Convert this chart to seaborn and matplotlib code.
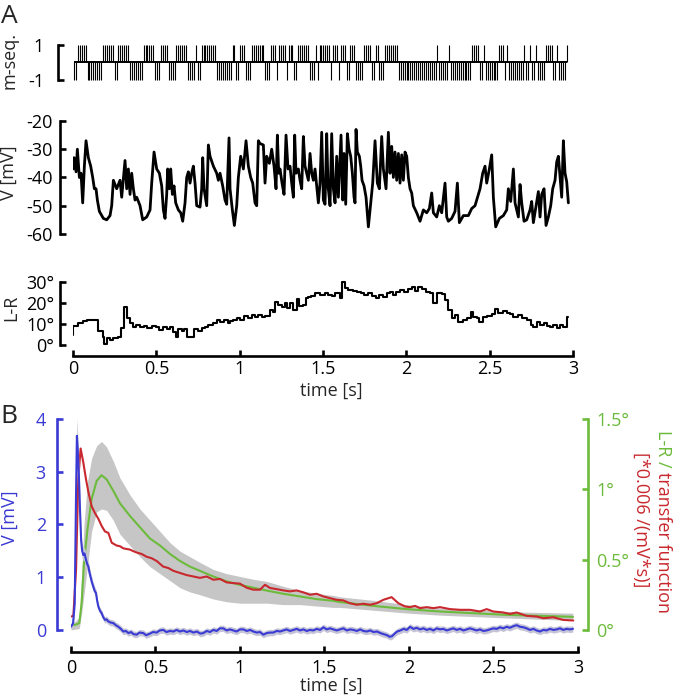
import numpy as np
import matplotlib
matplotlib.use('Agg')
import matplotlib.pyplot as plt
import seaborn as sns

sns.set_theme(style='ticks')
plt.rcParams['font.family'] = ['Open Sans', 'DejaVu Sans']
plt.rcParams['axes.unicode_minus'] = False

# ---------------- panel A: m-sequence (run lengths, starting with -1, alternating) ----------------
mseq_bit = 0.0116  # s per bit
mseq_runs = [2, 5, 8, 6, 2, 6, 7, 6, 3, 4, 4, 6, 4, 1, 2, 8, 8, 2, 2,
             3, 3, 7, 3, 3, 1, 4, 1, 3, 2, 6, 3, 1, 1, 6, 1, 3, 1, 3, 2, 3, 4, 4, 2, 2, 3, 7, 20,
             1, 5, 1, 11, 4, 2, 1, 7, 3, 1, 1, 8, 1, 2, 1, 2, 1, 4, 4, 2, 1, 4, 1]

# ---------------- panel A: membrane potential (vertices) ----------------
v_t = [0.000, 0.006, 0.018, 0.026, 0.038, 0.048, 0.058, 0.068, 0.078, 0.092,
       0.106, 0.118, 0.128, 0.138, 0.146, 0.158, 0.182, 0.202, 0.222, 0.232,
       0.242, 0.262, 0.282, 0.292, 0.312, 0.322, 0.332, 0.342, 0.352, 0.362,
       0.372, 0.382, 0.402, 0.418, 0.442, 0.462, 0.472, 0.486, 0.502, 0.518,
       0.532, 0.542, 0.552, 0.562, 0.568, 0.578, 0.586, 0.596, 0.606, 0.616,
       0.632, 0.646, 0.658, 0.672, 0.682, 0.692, 0.702, 0.712, 0.722, 0.732,
       0.742, 0.762, 0.772, 0.778, 0.786, 0.802, 0.812, 0.822, 0.842, 0.862,
       0.872, 0.882, 0.898, 0.912, 0.922, 0.936, 0.942, 0.956, 0.968, 0.982,
       0.992, 1.006, 1.022, 1.038, 1.052, 1.066, 1.078, 1.092, 1.102, 1.112,
       1.122, 1.142, 1.152, 1.162, 1.178, 1.192, 1.206, 1.218, 1.226, 1.234,
       1.242, 1.254, 1.266, 1.278, 1.290, 1.302, 1.312, 1.322, 1.330, 1.338,
       1.352, 1.362, 1.372, 1.382, 1.392, 1.402, 1.412, 1.422, 1.432, 1.442,
       1.452, 1.462, 1.472, 1.482, 1.492, 1.502, 1.512, 1.522, 1.530, 1.542,
       1.552, 1.562, 1.572, 1.582, 1.592,
       1.608, 1.618, 1.626, 1.636, 1.646, 1.656, 1.666, 1.676, 1.686, 1.692,
       1.698, 1.706, 1.718, 1.726, 1.734, 1.746, 1.758, 1.772, 1.786, 1.798,
       1.812, 1.826, 1.838, 1.852, 1.862, 1.878, 1.892, 1.902, 1.912, 1.922,
       1.932, 1.942, 1.952, 1.962, 1.972, 1.982, 1.992, 2.002, 2.012, 2.022,
       2.032, 2.042, 2.062, 2.082, 2.102, 2.122, 2.138, 2.152, 2.162, 2.182,
       2.198, 2.212, 2.232, 2.242, 2.252, 2.272, 2.292, 2.306, 2.318, 2.342,
       2.372, 2.392, 2.412, 2.422, 2.442, 2.458, 2.472, 2.482, 2.498, 2.512,
       2.522, 2.536, 2.558, 2.582, 2.602, 2.612, 2.626, 2.642, 2.652, 2.672,
       2.682, 2.692, 2.706, 2.722, 2.742, 2.752, 2.762, 2.778, 2.792, 2.802,
       2.812, 2.826, 2.838, 2.852, 2.866, 2.878, 2.892, 2.902, 2.912, 2.922,
       2.932, 2.942, 2.952, 2.962, 2.972]
v_mv = [-37, -33, -38, -30, -40, -38.5, -49, -36, -27, -33,
        -36, -40, -44, -44, -48, -52, -54.5, -55, -53.5, -50,
        -41, -44, -41, -47, -34, -44, -37, -46, -38.5, -44,
        -48, -47, -50, -55, -54, -51.5, -42, -31, -37, -38.5,
        -43, -51.5, -54.5, -46, -37, -44, -37, -46, -43, -49,
        -51.5, -52.5, -55.5, -49, -40, -38, -42, -38.5, -36, -42,
        -50, -50.5, -44, -33, -44, -50, -28.5, -32.5, -36, -38.5,
        -41, -38.5, -43, -48, -49.5, -26, -44, -51.5, -57, -50,
        -40, -32.5, -37, -27, -36, -40, -42, -49, -50, -27,
        -28, -28.5, -42, -32.5, -35, -30, -36, -44, -25, -38.5,
        -37, -42, -46, -25, -37, -36, -42, -47, -25, -38.5,
        -37, -41, -44, -25.5, -36, -38.5, -41, -31.5, -38.5, -41,
        -37, -43, -49, -42, -24, -48, -49.5, -24.5, -43, -50,
        -24.5, -44, -49, -32.5, -47,
        -25, -48, -31.5, -49.5, -24.5, -30, -32.5, -38.5, -47, -49,
        -23, -31, -32.5, -36, -41, -43, -47, -57.5, -49, -42,
        -27, -42, -44, -25.5, -37, -44, -24, -38.5, -29, -40,
        -31, -41, -31.5, -42, -32, -41, -31, -32.5, -40, -44,
        -45.5, -50, -52.5, -55.5, -51.5, -52.5, -51, -45.5, -52.5, -54,
        -50, -52.5, -42, -54, -55.5, -54.5, -52, -42, -56, -53.5,
        -53.5, -51, -50, -48, -44, -38.5, -36, -42, -37, -32,
        -47, -57.5, -54.5, -53.5, -51.5, -44, -48.5, -37, -49, -54,
        -42.5, -49, -55.5, -55, -51.5, -48.5, -56, -50, -45, -54,
        -46, -44, -57, -54, -50, -44, -41, -34.5, -32.5, -40,
        -47, -27, -38.5, -41.5, -49]

# ---------------- panel A: L-R stimulus (step changes) ----------------
lr_t = [0.000, 0.002, 0.032, 0.062, 0.086, 0.152, 0.178, 0.186, 0.202, 0.222,
        0.242, 0.272, 0.286, 0.306, 0.326, 0.342, 0.358, 0.378, 0.402, 0.426,
        0.442, 0.472, 0.498, 0.518, 0.542, 0.566, 0.582, 0.598, 0.618, 0.632,
        0.652, 0.666, 0.686, 0.726, 0.752, 0.772, 0.792, 0.812, 0.842, 0.862,
        0.882, 0.906, 0.928, 0.942, 0.962, 0.986, 1.002, 1.026, 1.052, 1.072,
        1.092, 1.112, 1.132, 1.152, 1.182, 1.198, 1.212, 1.232, 1.252, 1.272,
        1.286, 1.302, 1.318, 1.346, 1.358, 1.382, 1.398, 1.412, 1.426, 1.452,
        1.482, 1.512, 1.532, 1.552, 1.572,
        1.602, 1.612, 1.632, 1.652, 1.682, 1.702, 1.726, 1.746, 1.772, 1.792,
        1.818, 1.838, 1.858, 1.882, 1.902, 1.918, 1.938, 1.962, 1.986, 2.012,
        2.032, 2.052, 2.072, 2.092, 2.118, 2.142, 2.162, 2.182, 2.212, 2.232,
        2.252, 2.272, 2.292, 2.312, 2.338, 2.362, 2.386, 2.402, 2.422, 2.438,
        2.458, 2.482, 2.512, 2.532, 2.552, 2.578, 2.602, 2.622, 2.642, 2.672,
        2.692, 2.722, 2.746, 2.762, 2.782, 2.802, 2.826, 2.842, 2.862, 2.882,
        2.902, 2.922, 2.942, 2.962, 2.968]
lr_deg = [4.8, 9.2, 10.3, 11.4, 11.9, 6.8, 4.0, 0.5, 3.2, 2.4,
          3.2, 4.0, 7.9, 18.3, 12.7, 10.3, 8.4, 9.5, 8.4, 9.0,
          7.9, 9.0, 8.4, 7.1, 8.4, 7.5, 8.4, 6.3, 4.0, 7.5,
          6.8, 7.5, 4.0, 7.5, 6.8, 8.3, 8.7, 9.5, 10.6, 11.9,
          11.1, 11.9, 10.6, 11.6, 11.9, 12.7, 11.9, 13.8, 12.7, 14.3,
          13.2, 14.3, 13.2, 13.8, 16.7, 15.9, 20.6, 19.0, 18.3, 19.8,
          17.5, 19.8, 16.7, 21.7, 18.6, 19.0, 22.2, 22.7, 23.3, 24.6,
          23.8, 24.6, 23.8, 23.3, 24.6,
          22.2, 30.2, 27.0, 26.2, 25.9, 25.4, 24.6, 23.8, 24.6, 23.3,
          22.2, 23.8, 23.0, 24.6, 25.4, 23.8, 25.4, 26.2, 25.4, 26.5,
          27.8, 25.9, 27.8, 26.5, 25.4, 24.6, 19.8, 24.6, 24.3, 21.4,
          16.7, 12.7, 14.3, 11.1, 11.9, 12.7, 15.9, 13.2, 12.7, 11.1,
          13.5, 13.8, 14.8, 17.0, 15.4, 16.3, 15.4, 14.8, 13.5, 14.3,
          12.7, 11.9, 9.5, 8.7, 11.1, 9.5, 10.3, 9.0, 8.4, 9.5,
          7.9, 9.5, 8.7, 13.2, 13.2]

# ---------------- panel B: V kernel (mV) ----------------
b_t = [0.000, 0.012, 0.022, 0.030, 0.035, 0.040, 0.047, 0.053, 0.060, 0.066,
       0.073, 0.080, 0.089, 0.096, 0.103, 0.110, 0.116, 0.124, 0.132, 0.140,
       0.148, 0.155, 0.162, 0.172, 0.181, 0.191, 0.201, 0.211, 0.221, 0.235,
       0.250, 0.265, 0.280, 0.295, 0.310, 0.325, 0.340, 0.355, 0.370, 0.389,
       0.405, 0.428, 0.445, 0.467, 0.485, 0.507, 0.525, 0.546, 0.565, 0.585,
       0.606, 0.625, 0.645, 0.665, 0.685, 0.704, 0.724, 0.745, 0.765, 0.783,
       0.803, 0.822, 0.842, 0.862, 0.881, 0.901, 0.921, 0.941, 0.961, 0.980,
       1.000, 1.020, 1.040, 1.060, 1.079, 1.099, 1.118, 1.138, 1.158, 1.178,
       1.197, 1.217, 1.237, 1.256, 1.276, 1.296, 1.316, 1.336, 1.355, 1.375,
       1.395, 1.414, 1.434, 1.454, 1.474, 1.493, 1.513, 1.533, 1.552, 1.572,
       1.592, 1.612, 1.632, 1.651, 1.671, 1.691, 1.711, 1.730, 1.750, 1.770,
       1.790, 1.810, 1.831, 1.850, 1.870, 1.885, 1.899, 1.915, 1.930, 1.949,
       1.968, 1.987, 2.006, 2.026, 2.046, 2.065, 2.085, 2.105, 2.125, 2.144,
       2.164, 2.183, 2.203, 2.223, 2.243, 2.262, 2.282, 2.302, 2.322, 2.341,
       2.361, 2.381, 2.400, 2.420, 2.440, 2.459, 2.479, 2.499, 2.519, 2.538,
       2.558, 2.578, 2.597, 2.617, 2.637, 2.657, 2.677, 2.696, 2.716, 2.736,
       2.755, 2.775, 2.795, 2.814, 2.834, 2.854, 2.874, 2.893, 2.913, 2.933,
       2.952, 2.970]
b_mv = [0.06, 0.12, 0.5, 2.6, 3.68, 3.4, 2.9, 2.3, 1.7, 1.5,
        1.42, 1.45, 1.33, 1.25, 1.2, 1.08, 1.0, 0.9, 0.82, 0.74,
        0.7, 0.55, 0.44, 0.36, 0.32, 0.24, 0.19, 0.2, 0.16, 0.14,
        0.13, 0.09, 0.06, 0.02, -0.03, -0.02, -0.06, -0.04, -0.08, -0.09,
        -0.05, -0.06, -0.1, -0.07, -0.04, -0.05, -0.01, 0.0, -0.04, -0.02,
        -0.03, 0.0, -0.03, -0.01, -0.04, -0.02, -0.05, -0.03, -0.07, -0.06,
        -0.02, -0.04, 0.0, -0.02, 0.03, 0.03, -0.01, 0.01, -0.01, -0.03,
        0.01, 0.01, -0.02, 0.0, -0.03, -0.05, -0.04, -0.09, -0.06, -0.05,
        -0.05, -0.02, -0.03, -0.01, 0.01, -0.02, 0.0, 0.02, -0.01, 0.01,
        -0.02, 0.0, -0.01, 0.02, 0.0, 0.05, 0.01, 0.03, 0.01, -0.01,
        0.01, 0.03, -0.01, 0.01, 0.0, -0.02, 0.01, -0.02, -0.03, -0.01,
        -0.04, -0.03, -0.06, -0.08, -0.1, -0.13, -0.12, -0.07, -0.03, -0.01,
        0.02, 0.0, 0.06, 0.02, 0.04, 0.01, 0.03, 0.0, 0.02, -0.01,
        0.03, 0.01, 0.02, -0.01, 0.01, 0.03, 0.0, 0.02, -0.01, 0.01,
        0.03, 0.01, -0.01, 0.01, -0.02, -0.01, 0.01, 0.03, 0.02, 0.05,
        0.03, 0.06, 0.04, 0.07, 0.09, 0.06, 0.05, 0.03, 0.0, 0.02,
        -0.01, -0.03, 0.0, -0.01, 0.02, 0.0, 0.01, 0.03, 0.0, 0.02,
        0.01, 0.02]
b_sem = [0.04, 0.06, 0.15, 0.3, 0.33, 0.3, 0.25, 0.2, 0.15, 0.13,
         0.12, 0.12, 0.12, 0.12, 0.11, 0.1, 0.1, 0.09, 0.08, 0.08, 0.07] + [0.06] * 151

# ---------------- panel B: L-R kernel (deg) with band ----------------
g_t = [0.000, 0.024, 0.049, 0.063, 0.077, 0.097, 0.122, 0.152, 0.181, 0.211,
       0.250, 0.290, 0.349, 0.408, 0.467, 0.527, 0.586, 0.645, 0.704, 0.763,
       0.842, 0.921, 1.000, 1.079, 1.158, 1.256, 1.355, 1.454, 1.552, 1.592,
       1.789, 1.986, 2.183, 2.381, 2.578, 2.775, 2.970]
g_deg = [0.03, 0.036, 0.048, 0.19, 0.48, 0.71, 0.93, 1.06, 1.10, 1.07,
         0.99, 0.90, 0.81, 0.73, 0.65, 0.60, 0.54, 0.49, 0.45, 0.42,
         0.38, 0.345, 0.32, 0.30, 0.28, 0.257, 0.238, 0.219, 0.207, 0.198,
         0.171, 0.148, 0.131, 0.119, 0.107, 0.100, 0.093]
g_lo = [0.0, 0.005, 0.01, 0.12, 0.25, 0.45, 0.70, 0.84, 0.86, 0.85,
        0.78, 0.68, 0.60, 0.52, 0.45, 0.40, 0.35, 0.30, 0.27, 0.25,
        0.22, 0.20, 0.19, 0.19, 0.19, 0.18, 0.18, 0.17, 0.16, 0.16,
        0.14, 0.12, 0.105, 0.095, 0.085, 0.076, 0.067]
g_hi = [0.05, 0.06, 0.09, 0.40, 0.75, 1.05, 1.22, 1.31, 1.34, 1.30,
        1.20, 1.08, 0.96, 0.86, 0.78, 0.70, 0.62, 0.56, 0.52, 0.48,
        0.43, 0.40, 0.38, 0.36, 0.345, 0.31, 0.28, 0.26, 0.245, 0.235,
        0.21, 0.18, 0.155, 0.143, 0.131, 0.124, 0.119]

# ---------------- panel B: transfer function (right-axis units) ----------------
r_t = [0.000, 0.014, 0.030, 0.043, 0.057, 0.073, 0.089, 0.103, 0.122, 0.142,
       0.162, 0.181, 0.201, 0.221, 0.241, 0.270, 0.290, 0.310, 0.349, 0.369,
       0.389, 0.418, 0.448, 0.477, 0.507, 0.546, 0.576, 0.606, 0.645, 0.684,
       0.724, 0.763, 0.803, 0.842, 0.882, 0.921, 0.961, 1.000, 1.039, 1.079,
       1.118, 1.148, 1.178, 1.217, 1.256, 1.296, 1.335, 1.375, 1.414, 1.454,
       1.493, 1.532, 1.572, 1.611, 1.650, 1.690, 1.730, 1.770, 1.809, 1.848,
       1.897, 1.937, 1.976, 2.006, 2.036, 2.065, 2.105, 2.144, 2.183, 2.243,
       2.302, 2.361, 2.420, 2.460, 2.499, 2.558, 2.598, 2.637, 2.696, 2.755,
       2.795, 2.854, 2.913, 2.972]
r_deg = [0.095, 0.10, 0.43, 1.07, 1.29, 1.19, 1.07, 0.98, 0.88, 0.83,
         0.79, 0.74, 0.70, 0.69, 0.62, 0.60, 0.595, 0.58, 0.571, 0.56,
         0.55, 0.54, 0.52, 0.51, 0.49, 0.45, 0.44, 0.42, 0.405, 0.39,
         0.38, 0.37, 0.38, 0.357, 0.362, 0.338, 0.333, 0.329, 0.30, 0.286,
         0.286, 0.321, 0.298, 0.29, 0.281, 0.274, 0.281, 0.267, 0.25, 0.257,
         0.238, 0.226, 0.214, 0.21, 0.19, 0.179, 0.186, 0.179, 0.19, 0.214,
         0.233, 0.19, 0.167, 0.162, 0.171, 0.155, 0.162, 0.155, 0.162, 0.148,
         0.143, 0.143, 0.131, 0.148, 0.131, 0.124, 0.114, 0.124, 0.10, 0.095,
         0.083, 0.09, 0.071, 0.067]

time_ticks = [0, 0.5, 1, 1.5, 2, 2.5, 3]
time_labels = ['0', '0.5', '1', '1.5', '2', '2.5', '3']

BLUE = '#3a3ad4'
GREEN = '#6cbb3c'
RED = '#c8282e'
BAND = '#c6c6c6'
FS = 13

fig = plt.figure(figsize=(6.8, 6.97), dpi=100)


def base_style(ax, color='black'):
    ax.set_facecolor('none')
    for s in ax.spines.values():
        s.set_linewidth(1.9)
        s.set_color(color)
    ax.tick_params(direction='in', length=4, width=1.9, labelsize=FS, colors=color)


# ---- A1: m-seq ----
ax1 = fig.add_axes([0.1074, 0.8815, 0.7353, 0.0577])
sign = np.where(np.arange(len(mseq_runs)) % 2 == 0, -1, 1)
bits = np.repeat(sign, mseq_runs)
t_bits = np.arange(len(bits)) * mseq_bit + mseq_bit / 2
ax1.vlines(t_bits, 0, bits, color='black', lw=0.8)
ax1.hlines(0, t_bits[0], t_bits[-1], color='black', lw=1.4)
ax1.set_xlim(0, 3)
ax1.set_ylim(-1.15, 1.15)
base_style(ax1)
sns.despine(ax=ax1, bottom=True, offset={'left': 10.8})
ax1.spines['left'].set_bounds(-1, 1)
ax1.set_yticks([-1, 1])
ax1.set_yticklabels(['-1', '1'])
ax1.tick_params(axis='y', pad=10)
ax1.set_xticks([])

# ---- A2: V ----
ax2 = fig.add_axes([0.1074, 0.6603, 0.7353, 0.1702])
sns.lineplot(x=v_t, y=v_mv, ax=ax2, color='black', lw=2.0, estimator=None, sort=False)
ax2.set_xlim(0, 3)
ax2.set_ylim(-61, -19)
base_style(ax2)
sns.despine(ax=ax2, bottom=True, offset={'left': 9.4})
ax2.spines['left'].set_bounds(-60, -20)
ax2.set_yticks([-60, -50, -40, -30, -20])
ax2.set_yticklabels(['-60', '-50', '-40', '-30', '-20'])
ax2.tick_params(axis='y', pad=5)
ax2.set_xticks([])

# ---- A3: L-R ----
ax3 = fig.add_axes([0.1074, 0.502, 0.7353, 0.0964])
sns.lineplot(x=lr_t, y=lr_deg, ax=ax3, color='black', lw=1.5, drawstyle='steps-post',
             estimator=None, sort=False)
ax3.set_xlim(0, 3)
ax3.set_ylim(-1, 31)
base_style(ax3)
sns.despine(ax=ax3, offset={'left': 9.4, 'bottom': 6.4})
ax3.spines['left'].set_bounds(0, 30)
ax3.spines['bottom'].set_bounds(0, 3)
ax3.set_yticks([0, 10, 20, 30])
ax3.set_yticklabels(['0°', '10°', '20°', '30°'])
ax3.set_xticks(time_ticks)
ax3.set_xticklabels(time_labels)
ax3.tick_params(axis='y', pad=4)
ax3.tick_params(axis='x', pad=3)

# ---- B ----
axb = fig.add_axes([0.1044, 0.0811, 0.7456, 0.3254])
axr = axb.twinx()
axb.set_zorder(axr.get_zorder() + 1)

axr.fill_between(g_t, g_lo, g_hi, color=BAND, lw=0)
sns.lineplot(x=g_t, y=g_deg, ax=axr, color=GREEN, lw=1.5, estimator=None, sort=False)
sns.lineplot(x=r_t, y=r_deg, ax=axr, color=RED, lw=1.5, estimator=None, sort=False)

b_mv_arr = np.array(b_mv)
b_sem_arr = np.array(b_sem)
axb.fill_between(b_t, b_mv_arr - b_sem_arr, b_mv_arr + b_sem_arr, color='#c4c4d6', lw=0)
sns.lineplot(x=b_t, y=b_mv, ax=axb, color=BLUE, lw=1.5, estimator=None, sort=False)

axb.set_xlim(0, 3)
axb.set_ylim(-0.2, 4.1)
axr.set_ylim(-0.075, 1.5375)
base_style(axb)
base_style(axr)
for s in ['top', 'right']:
    axb.spines[s].set_visible(False)
for s in ['top', 'left', 'bottom']:
    axr.spines[s].set_visible(False)
axb.spines['left'].set_position(('outward', 10))
axb.spines['bottom'].set_position(('outward', 8.3))
axr.spines['right'].set_position(('outward', 7.2))
axb.spines['left'].set_color(BLUE)
axb.spines['left'].set_bounds(0, 4)
axb.spines['bottom'].set_bounds(0, 3)
axr.spines['right'].set_color(GREEN)
axr.spines['right'].set_bounds(0, 1.5)
axb.set_yticks([0, 1, 2, 3, 4])
axb.set_yticklabels(['0', '1', '2', '3', '4'])
axb.tick_params(axis='y', colors=BLUE, pad=8)
axb.set_xticks(time_ticks)
axb.set_xticklabels(time_labels)
axb.tick_params(axis='x', colors='black', pad=5)
axr.set_yticks([0, 0.5, 1, 1.5])
axr.set_yticklabels(['0°', '0.5°', '1°', '1.5°'])
axr.tick_params(axis='y', colors=GREEN, pad=6)
axr.tick_params(axis='x', bottom=False, labelbottom=False)
for a in (ax1, ax2, ax3, axb, axr):
    a.set_xlabel('')
    a.set_ylabel('')


def fx(px):
    return px / 680


def fy(py):
    return 1 - py / 697


fig.text(fx(1), fy(4), 'A', fontsize=19, ha='left', va='top')
fig.text(fx(0), fy(404), 'B', fontsize=19, ha='left', va='top')
fig.text(fx(10), fy(60), 'm-seq.', fontsize=FS, rotation=90, ha='center', va='center')
fig.text(fx(9), fy(173), 'V [mV]', fontsize=FS, rotation=90, ha='center', va='center')
fig.text(fx(11), fy(308), 'L-R', fontsize=FS, rotation=90, ha='center', va='center')
fig.text(fx(331), fy(391), 'time [s]', fontsize=FS, ha='center', va='center')
fig.text(fx(331), fy(686), 'time [s]', fontsize=FS, ha='center', va='center')
fig.text(fx(10), fy(518), 'V [mV]', fontsize=FS, rotation=90, ha='center', va='center', color=BLUE)

# right-hand label: green part followed directly by red part
renderer = fig.canvas.get_renderer()
t1 = fig.text(fx(663), fy(430), 'L-R / ', fontsize=FS, rotation=270, ha='center', va='top', color=GREEN)
ext = t1.get_window_extent(renderer=renderer)
fig.text(fx(663), ext.y0 / fig.bbox.height, 'transfer function', fontsize=FS, rotation=270,
         ha='center', va='top', color=RED)
fig.text(fx(641), fy(520), '[*0.006 /(mV*s)]', fontsize=FS, rotation=270, ha='center', va='center', color=RED)

fig.savefig('out.png', dpi=100)
